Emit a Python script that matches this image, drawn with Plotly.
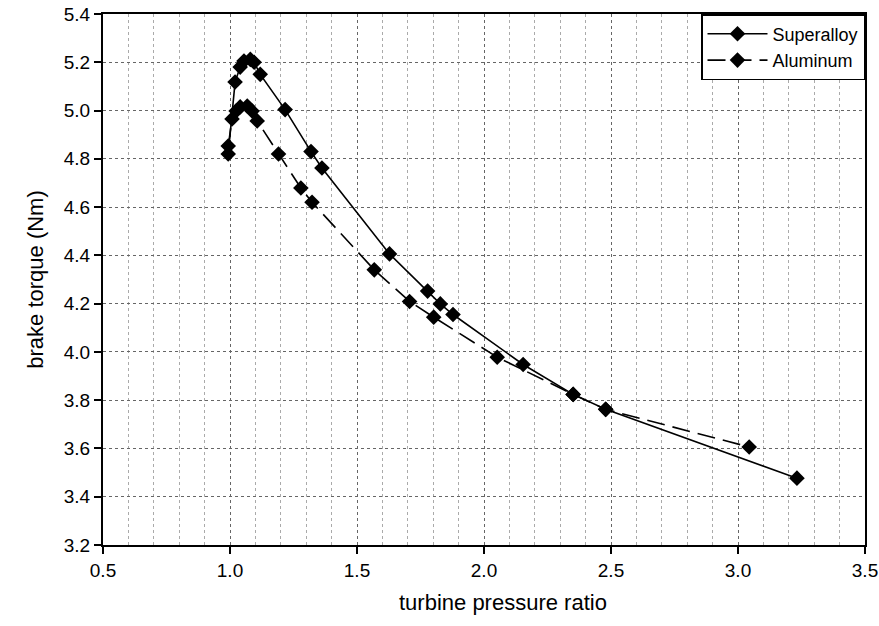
import plotly.graph_objects as go

superalloy_x = [0.993, 1.020, 1.040, 1.055, 1.080, 1.095, 1.119, 1.217, 1.319, 1.362,
                1.628, 1.778, 1.828, 1.878, 2.154, 2.351, 2.479, 3.232]
superalloy_y = [4.82, 5.118, 5.18, 5.205, 5.212, 5.20, 5.15, 5.004, 4.83, 4.762,
                4.406, 4.252, 4.199, 4.155, 3.948, 3.824, 3.762, 3.477]

aluminum_x = [0.993, 1.008, 1.024, 1.040, 1.068, 1.087, 1.107, 1.191, 1.279, 1.323,
              1.568, 1.707, 1.802, 2.052, 2.351, 2.479, 3.044]
aluminum_y = [4.853, 4.965, 4.998, 5.015, 5.019, 4.998, 4.957, 4.82, 4.679, 4.62,
              4.34, 4.209, 4.144, 3.978, 3.824, 3.762, 3.606]

x_ticks = [0.5, 1.0, 1.5, 2.0, 2.5, 3.0, 3.5]
y_ticks = [3.2, 3.4, 3.6, 3.8, 4.0, 4.2, 4.4, 4.6, 4.8, 5.0, 5.2, 5.4]

FONT = "Liberation Sans, Arial, sans-serif"

fig = go.Figure()
fig.add_trace(go.Scatter(
    x=superalloy_x, y=superalloy_y, name="Superalloy", mode="lines+markers",
    line=dict(color="black", width=1.6),
    marker=dict(symbol="diamond", size=12, color="black"),
))
fig.add_trace(go.Scatter(
    x=aluminum_x, y=aluminum_y, name="Aluminum", mode="lines+markers",
    line=dict(color="black", width=1.6, dash="18px,8px"),
    marker=dict(symbol="diamond", size=12, color="black"),
))

fig.update_layout(
    width=879, height=626,
    margin=dict(l=103, r=14, t=14, b=81),
    paper_bgcolor="white", plot_bgcolor="white",
    font=dict(family=FONT, color="black", size=18),
    showlegend=True,
    legend=dict(
        x=1, y=1, xanchor="right", yanchor="top",
        bgcolor="white", bordercolor="black", borderwidth=1.5,
        font=dict(size=18, family=FONT),
        itemwidth=60,
        tracegroupgap=2,
    ),
    annotations=[dict(
        text="turbine pressure ratio", xref="paper", yref="paper",
        x=0.525, y=-0.108, xanchor="center", yanchor="middle",
        showarrow=False, font=dict(size=22, family=FONT, color="black"),
    )],
)

fig.update_xaxes(
    range=[0.5, 3.5], tickvals=x_ticks, ticktext=[f"{v:.1f}" for v in x_ticks],
    ticks="outside", ticklen=7, tickcolor="black", tickwidth=1.5,
    showline=True, linecolor="black", linewidth=2, mirror=True,
    showgrid=True, gridcolor="#666", griddash="dot", gridwidth=1,
    minor=dict(dtick=0.1, showgrid=True, gridcolor="#aaa", griddash="dot", gridwidth=1),
    zeroline=False, automargin=False,
    tickfont=dict(size=19, family=FONT),
)
fig.update_yaxes(
    range=[3.2, 5.4], tickvals=y_ticks, ticktext=[f"{v:.1f}" for v in y_ticks],
    ticks="outside", ticklen=7, tickcolor="black", tickwidth=1.5,
    showline=True, linecolor="black", linewidth=2, mirror=True,
    showgrid=True, gridcolor="#666", griddash="dot", gridwidth=1,
    zeroline=False, automargin=False,
    title=dict(text="brake torque (Nm)", font=dict(size=22, family=FONT), standoff=14),
    tickfont=dict(size=19, family=FONT),
)

fig.write_html("out.html")
